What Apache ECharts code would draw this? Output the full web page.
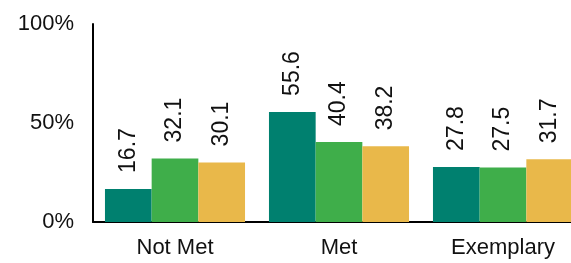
<!DOCTYPE html>
<html>
<head>
<meta charset="utf-8">
<script src="https://cdn.jsdelivr.net/npm/echarts@6/dist/echarts.min.js"></script>
<style>
  html, body { margin: 0; padding: 0; background: #fff; }
  #chart { width: 571px; height: 263px; }
</style>
</head>
<body>
<div id="chart"></div>
<script>
// 分类和数值
var categories = ["Not Met", "Met", "Exemplary"];
var seriesA = [16.7, 55.6, 27.8];
var seriesB = [32.1, 40.4, 27.5];
var seriesC = [30.1, 38.2, 31.7];
var yTicks = [0, 50, 100];

var colors = ["#00806f", "#3fae4a", "#e9b84a"];
var font = "Liberation Sans";

function makeSeries(data, color) {
  return {
    type: "bar",
    data: data,
    barGap: "0%",
    barCategoryGap: "14.6%",
    itemStyle: { color: color },
    label: {
      show: true,
      position: "top",
      distance: 16,
      rotate: 90,
      align: "left",
      verticalAlign: "middle",
      fontFamily: font,
      fontSize: 23,
      color: "#111",
      formatter: function (p) {
        return p.value.toFixed(1);
      },
    },
  };
}

var myChart = echarts.init(document.getElementById("chart"));
myChart.setOption({
  animation: false,
  grid: {
    left: 93,
    top: 24,
    bottom: 41,
    width: 492,
    containLabel: false,
    outerBoundsMode: "none",
  },
  xAxis: {
    type: "category",
    data: categories,
    axisLine: { lineStyle: { color: "#000", width: 2 } },
    axisTick: { show: false },
    axisLabel: {
      margin: 15,
      fontFamily: font,
      fontSize: 22,
      color: "#111",
    },
  },
  yAxis: {
    type: "value",
    min: yTicks[0],
    max: yTicks[yTicks.length - 1],
    interval: yTicks[1] - yTicks[0],
    axisLine: { show: true, lineStyle: { color: "#000", width: 2 } },
    axisTick: { show: false },
    splitLine: { show: false },
    axisLabel: {
      margin: 19,
      fontFamily: font,
      fontSize: 22,
      color: "#111",
      formatter: "{value}%",
    },
  },
  series: [
    makeSeries(seriesA, colors[0]),
    makeSeries(seriesB, colors[1]),
    makeSeries(seriesC, colors[2]),
  ],
});
</script>
</body>
</html>
